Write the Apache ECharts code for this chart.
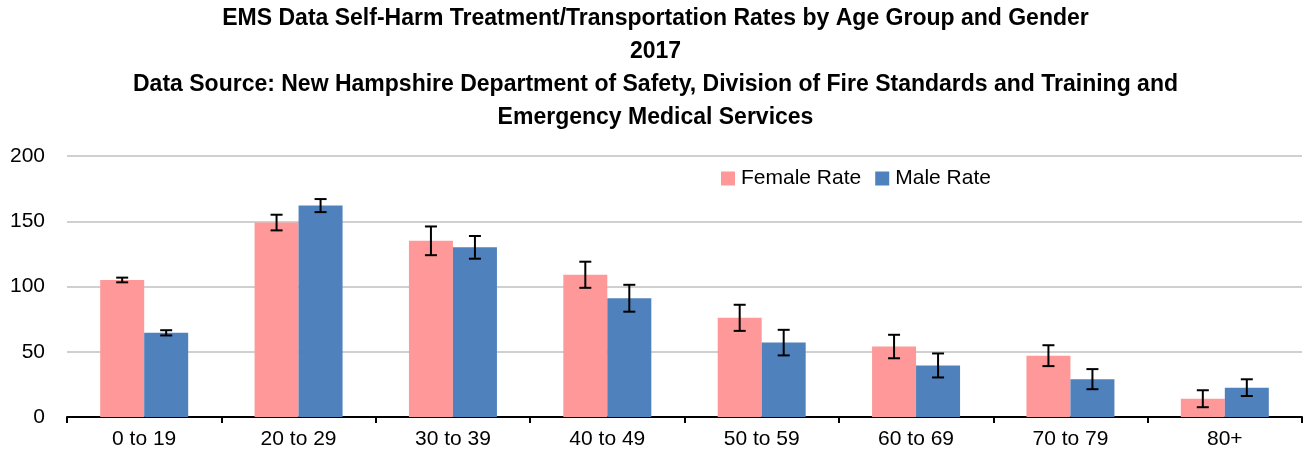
<!DOCTYPE html>
<html>
<head>
<meta charset="utf-8">
<script src="https://cdn.jsdelivr.net/npm/echarts@6/dist/echarts.min.js"></script>
<style>
  html, body { margin: 0; padding: 0; background: #fff; }
  #chart { width: 1311px; height: 460px; }
</style>
</head>
<body>
<div id="chart"></div>
<script>
// age groups
var categories = ["0 to 19", "20 to 29", "30 to 39", "40 to 49", "50 to 59", "60 to 69", "70 to 79", "80+"];
// rates per 100,000
var femaleRate = [105, 149, 135, 109, 76, 54, 47, 14];
var maleRate = [64.5, 162, 130, 91, 57, 39.5, 29, 22.5];
// half width of the confidence interval
var femaleErr = [1.8, 6, 11, 10, 10, 9, 8, 6.5];
var maleErr = [2, 5, 8.7, 10.3, 9.8, 9.2, 7.7, 6.4];
var yTicks = [0, 50, 100, 150, 200];

var FONT = "Liberation Sans";
var BAR_W = 44;

function errorSeries(vals, errs, side) {
  var data = vals.map(function (v, i) { return [i, v - errs[i], v + errs[i]]; });
  return {
    type: "custom",
    z: 10,
    silent: true,
    renderItem: function (params, api) {
      var idx = api.value(0);
      var lo = api.coord([idx, api.value(1)]);
      var hi = api.coord([idx, api.value(2)]);
      var x = lo[0] + side * BAR_W / 2;
      var cap = 6;
      var st = { stroke: "#000", lineWidth: 2 };
      return {
        type: "group",
        children: [
          { type: "line", shape: { x1: x, y1: lo[1], x2: x, y2: hi[1] }, style: st },
          { type: "line", shape: { x1: x - cap, y1: lo[1], x2: x + cap, y2: lo[1] }, style: st },
          { type: "line", shape: { x1: x - cap, y1: hi[1], x2: x + cap, y2: hi[1] }, style: st }
        ]
      };
    },
    encode: { x: 0, y: [1, 2] },
    data: data
  };
}

var option = {
  animation: false,
  textStyle: { fontFamily: FONT },
  title: {
    text: "EMS Data Self-Harm Treatment/Transportation Rates by Age Group and Gender\n2017\nData Source: New Hampshire Department of Safety, Division of Fire Standards and Training and\nEmergency Medical Services",
    left: "center",
    top: 2,
    padding: 0,
    textStyle: {
      fontFamily: FONT,
      fontWeight: "bold",
      fontSize: 23,
      lineHeight: 33,
      color: "#000"
    }
  },
  legend: {
    data: ["Female Rate", "Male Rate"],
    left: 721,
    top: 168,
    padding: 0,
    itemWidth: 14,
    itemHeight: 14,
    itemGap: 14,
    icon: "rect",
    textStyle: { fontFamily: FONT, fontSize: 21, color: "#000", padding: [0, 0, 0, 1] }
  },
  grid: {
    left: 67,
    right: 9,
    top: 156,
    bottom: 43,
    containLabel: false
  },
  xAxis: {
    type: "category",
    data: categories,
    axisLine: { lineStyle: { color: "#000", width: 2 } },
    axisTick: { show: true, length: 6, lineStyle: { color: "#000", width: 2 } },
    axisLabel: { fontFamily: FONT, fontSize: 21, color: "#000", margin: 12 },
    splitLine: { show: false }
  },
  yAxis: {
    type: "value",
    min: yTicks[0],
    max: yTicks[yTicks.length - 1],
    interval: 50,
    axisLine: { show: false },
    axisTick: { show: false },
    axisLabel: { fontFamily: FONT, fontSize: 21, color: "#000", margin: 22 },
    splitLine: { lineStyle: { color: "#c0c0c0", width: 1.5 } }
  },
  series: [
    {
      name: "Female Rate",
      type: "bar",
      barWidth: BAR_W,
      barGap: "0%",
      itemStyle: { color: "#ff9999" },
      data: femaleRate
    },
    {
      name: "Male Rate",
      type: "bar",
      barWidth: BAR_W,
      barGap: "0%",
      itemStyle: { color: "#4f81bd" },
      data: maleRate
    },
    errorSeries(femaleRate, femaleErr, -1),
    errorSeries(maleRate, maleErr, 1)
  ]
};

var myChart = echarts.init(document.getElementById("chart"));
myChart.setOption(option);
window.addEventListener("resize", function () {
  myChart.resize();
});
</script>
</body>
</html>
